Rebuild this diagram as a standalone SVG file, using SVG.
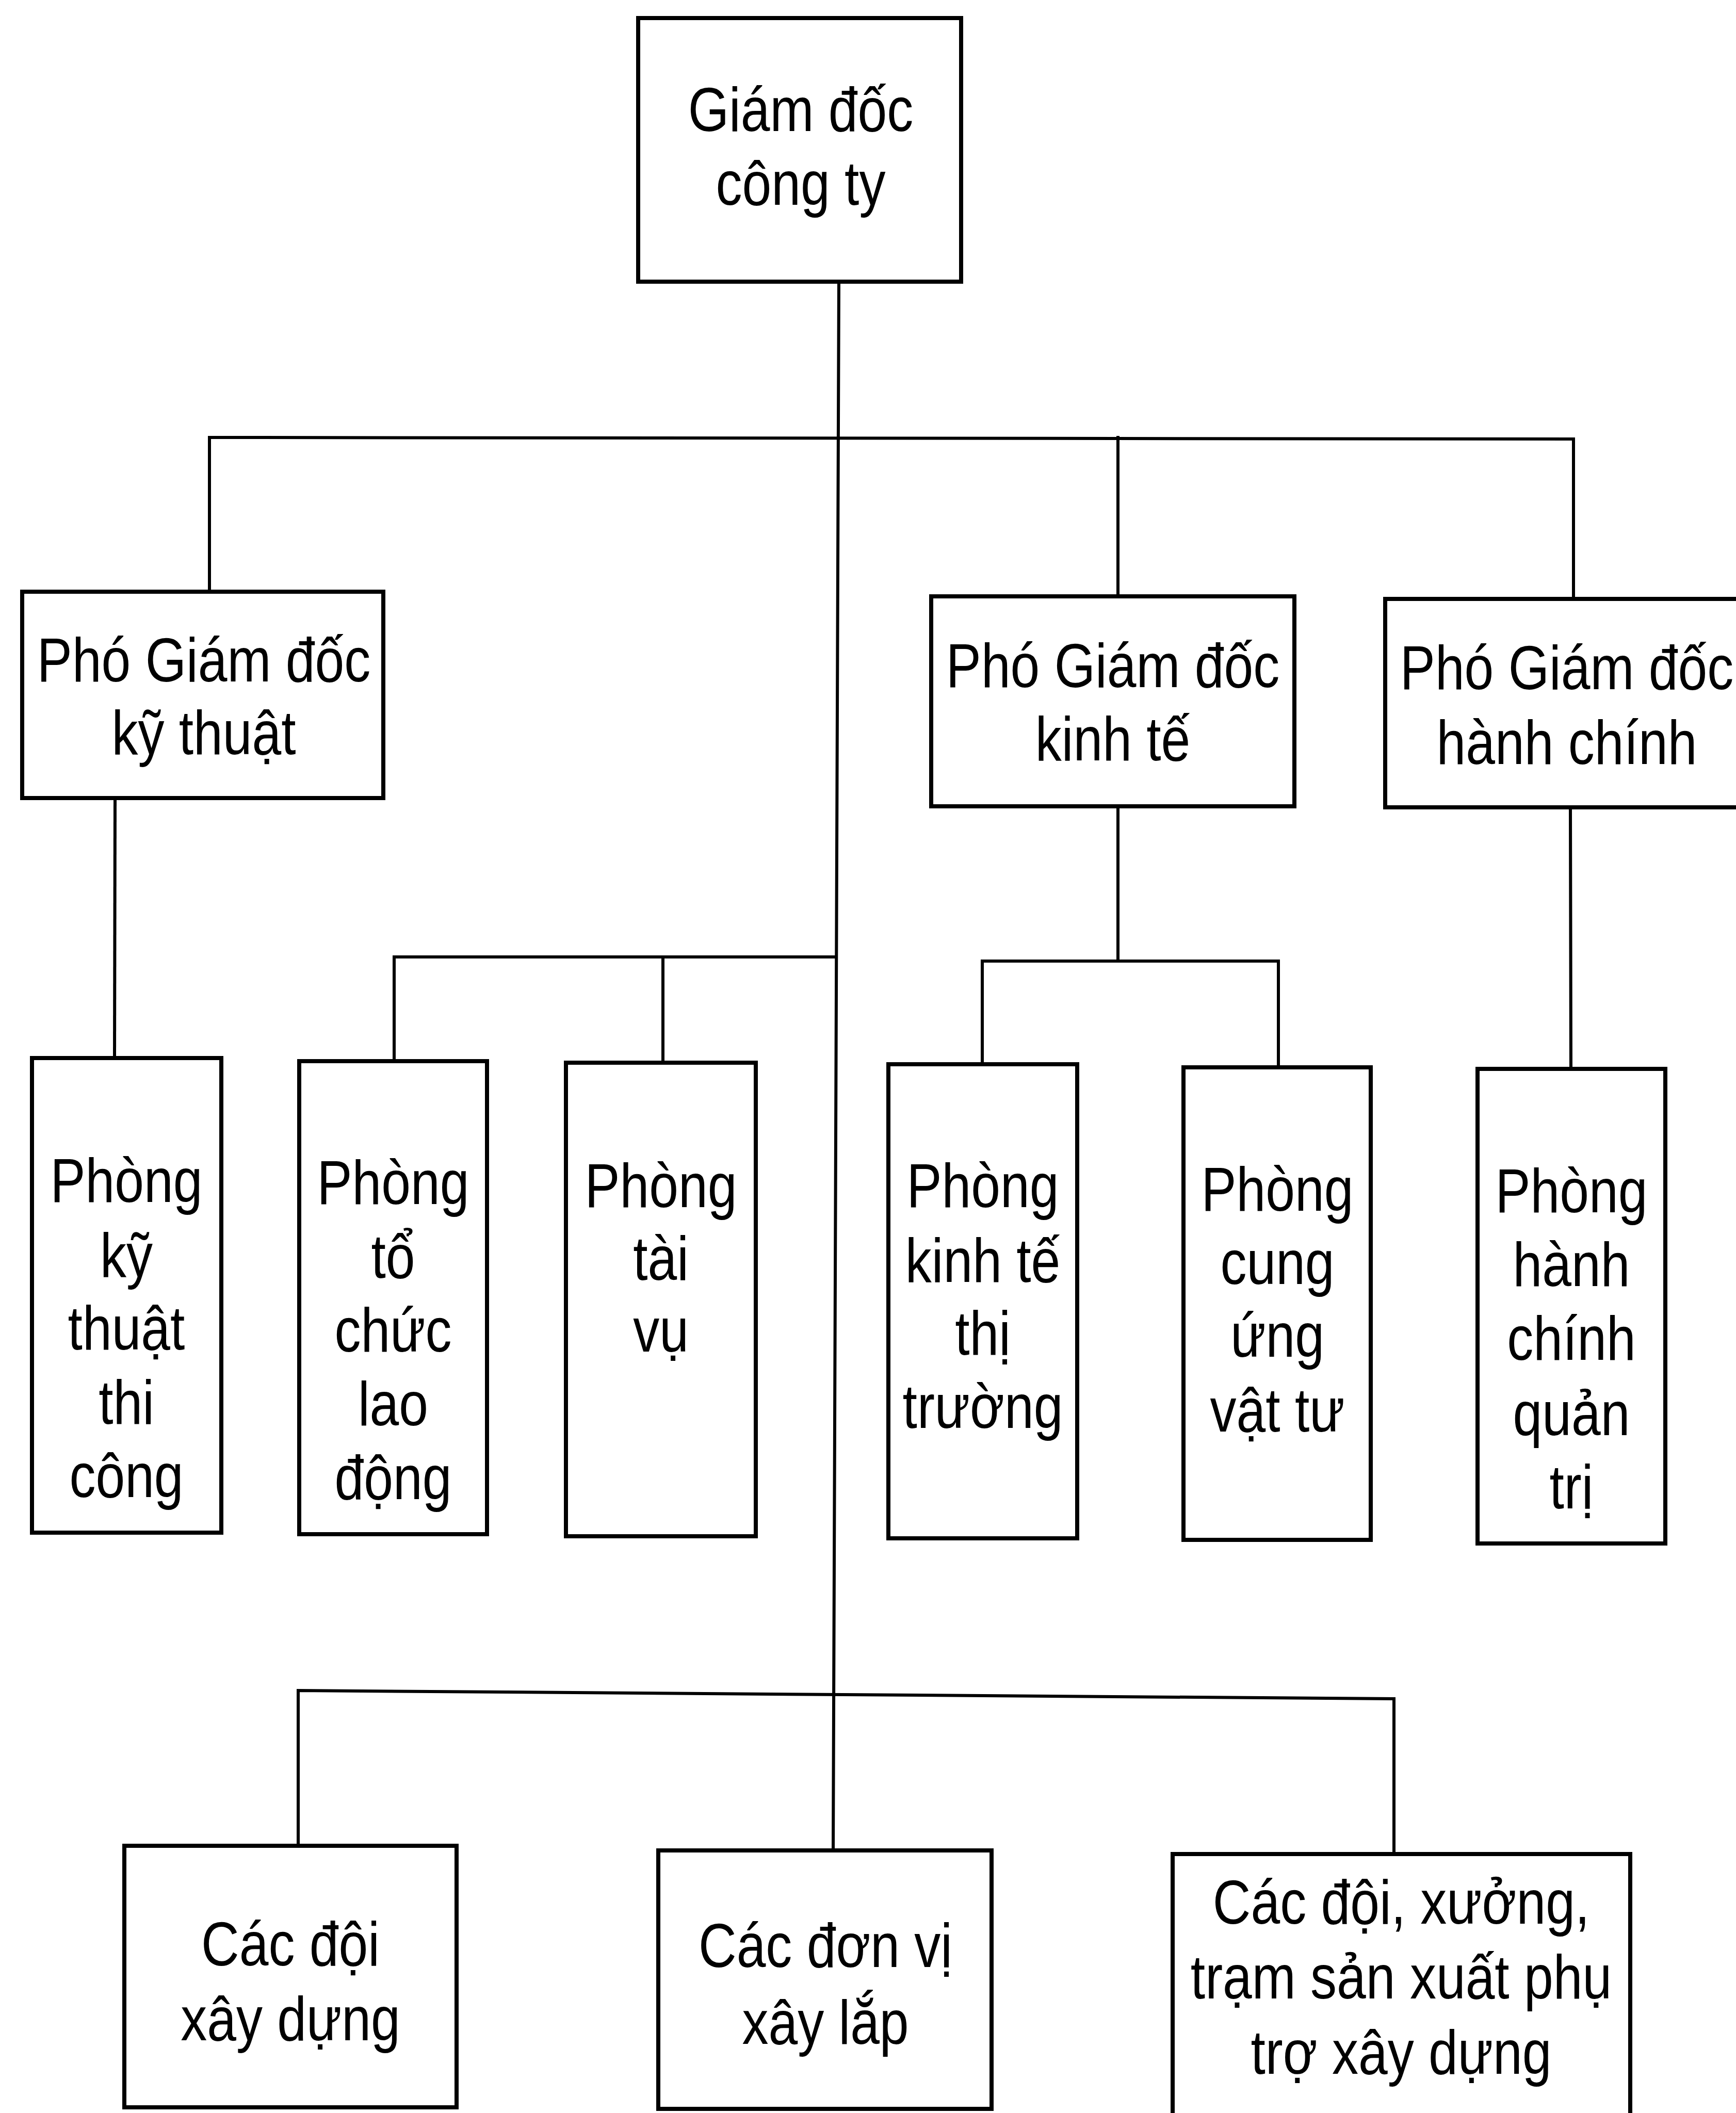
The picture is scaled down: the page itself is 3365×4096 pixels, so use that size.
<svg xmlns="http://www.w3.org/2000/svg" width="3365" height="4096" viewBox="0 0 3365 4096">
<style>
.box{fill:#fff;stroke:#000;stroke-width:8}
.con{fill:none;stroke:#000;stroke-width:6;stroke-linecap:square}
.t{font-family:"Liberation Sans",Arial,sans-serif;font-size:120px;text-anchor:middle;fill:#000}
</style>
<rect width="3365" height="4096" fill="#fff"/>
<g id="connectors">
<polyline class="con" points="1626,546 1615,3587"/>
<polyline class="con" points="406,1147 406,848 3050,851 3050,1161"/>
<polyline class="con" points="2167,848 2167,1156"/>
<polyline class="con" points="223,1547 222,2051"/>
<polyline class="con" points="764,2057 764,1855 1621,1855"/>
<polyline class="con" points="1285,1855 1285,2060"/>
<polyline class="con" points="2167,1563 2167,1863"/>
<polyline class="con" points="1904,2063 1904,1863 2478,1863 2478,2069"/>
<polyline class="con" points="3044,1565 3045,2072"/>
<polyline class="con" points="578,3578 578,3277 2702,3293 2702,3594"/>
</g>
<g id="giam-doc">
<rect class="box" x="1237" y="35" width="626" height="511"/>
<text class="t" transform="translate(1552 0) scale(0.85 1)"><tspan x="0" y="254">Giám đốc</tspan><tspan x="0" y="397">công ty</tspan></text>
</g>
<g id="pgd-ky-thuat">
<rect class="box" x="43" y="1147" width="700" height="400"/>
<text class="t" transform="translate(395 0) scale(0.85 1)"><tspan x="0" y="1321">Phó Giám đốc</tspan><tspan x="0" y="1462">kỹ thuật</tspan></text>
</g>
<g id="pgd-kinh-te">
<rect class="box" x="1805" y="1156" width="704" height="407"/>
<text class="t" transform="translate(2157 0) scale(0.85 1)"><tspan x="0" y="1332">Phó Giám đốc</tspan><tspan x="0" y="1474">kinh tế</tspan></text>
</g>
<g id="pgd-hanh-chinh">
<rect class="box" x="2685" y="1161" width="710" height="404"/>
<text class="t" transform="translate(3037 0) scale(0.85 1)"><tspan x="0" y="1336">Phó Giám đốc</tspan><tspan x="0" y="1481">hành chính</tspan></text>
</g>
<g id="phong-ky-thuat-thi-cong">
<rect class="box" x="62" y="2051" width="367" height="920"/>
<text class="t" transform="translate(245 0) scale(0.85 1)"><tspan x="0" y="2330">Phòng</tspan><tspan x="0" y="2475">kỹ</tspan><tspan x="0" y="2616">thuật</tspan><tspan x="0" y="2760">thi</tspan><tspan x="0" y="2902">công</tspan></text>
</g>
<g id="phong-to-chuc-lao-dong">
<rect class="box" x="580" y="2057" width="364" height="917"/>
<text class="t" transform="translate(762 0) scale(0.85 1)"><tspan x="0" y="2334">Phòng</tspan><tspan x="0" y="2477">tổ</tspan><tspan x="0" y="2620">chức</tspan><tspan x="0" y="2763">lao</tspan><tspan x="0" y="2906">động</tspan></text>
</g>
<g id="phong-tai-vu">
<rect class="box" x="1097" y="2060" width="368" height="918"/>
<text class="t" transform="translate(1281 0) scale(0.85 1)"><tspan x="0" y="2340">Phòng</tspan><tspan x="0" y="2481">tài</tspan><tspan x="0" y="2620">vụ</tspan></text>
</g>
<g id="phong-kinh-te-thi-truong">
<rect class="box" x="1722" y="2063" width="366" height="919"/>
<text class="t" transform="translate(1905 0) scale(0.85 1)"><tspan x="0" y="2340">Phòng</tspan><tspan x="0" y="2485">kinh tế</tspan><tspan x="0" y="2626">thị</tspan><tspan x="0" y="2768">trường</tspan></text>
</g>
<g id="phong-cung-ung-vat-tu">
<rect class="box" x="2294" y="2069" width="363" height="916"/>
<text class="t" transform="translate(2476 0) scale(0.85 1)"><tspan x="0" y="2347">Phòng</tspan><tspan x="0" y="2489">cung</tspan><tspan x="0" y="2630">ứng</tspan><tspan x="0" y="2775">vật tư</tspan></text>
</g>
<g id="phong-hanh-chinh-quan-tri">
<rect class="box" x="2864" y="2072" width="364" height="920"/>
<text class="t" transform="translate(3046 0) scale(0.85 1)"><tspan x="0" y="2350">Phòng</tspan><tspan x="0" y="2493">hành</tspan><tspan x="0" y="2636">chính</tspan><tspan x="0" y="2782">quản</tspan><tspan x="0" y="2924">trị</tspan></text>
</g>
<g id="cac-doi-xay-dung">
<rect class="box" x="241" y="3578" width="644" height="507"/>
<text class="t" transform="translate(563 0) scale(0.85 1)"><tspan x="0" y="3810">Các đội</tspan><tspan x="0" y="3955">xây dựng</tspan></text>
</g>
<g id="cac-don-vi-xay-lap">
<rect class="box" x="1276" y="3587" width="646" height="501"/>
<text class="t" transform="translate(1600 0) scale(0.85 1)"><tspan x="0" y="3813">Các đơn vị</tspan><tspan x="0" y="3962">xây lắp</tspan></text>
</g>
<g id="cac-doi-xuong-tram">
<rect class="box" x="2273" y="3594" width="887" height="520"/>
<text class="t" transform="translate(2716 0) scale(0.85 1)"><tspan x="0" y="3729">Các đội, xưởng,</tspan><tspan x="0" y="3874">trạm sản xuất phụ</tspan><tspan x="0" y="4020">trợ xây dựng</tspan></text>
</g>
</svg>
